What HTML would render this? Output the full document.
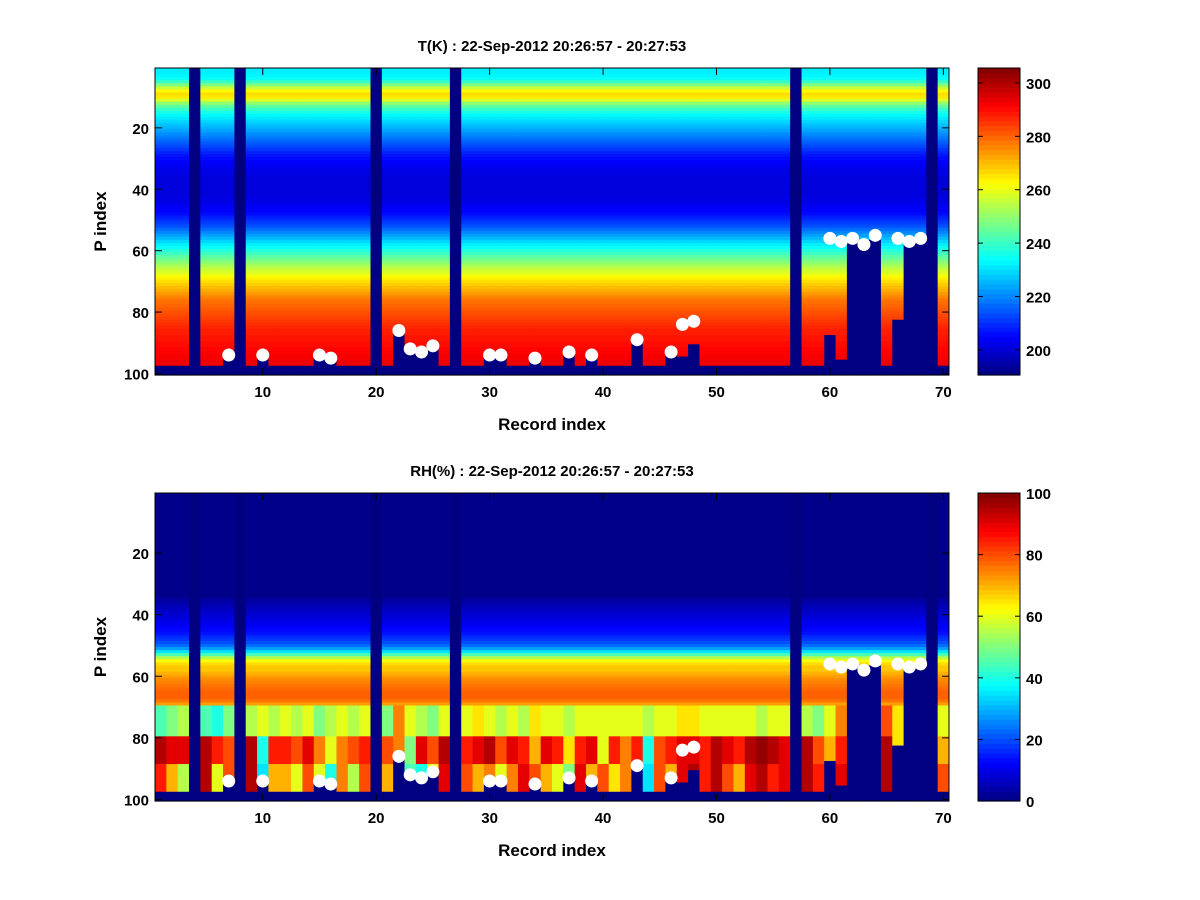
<!DOCTYPE html>
<html><head><meta charset="utf-8">
<style>
body{margin:0;background:#fff;}
svg{display:block;font-family:"Liberation Sans",sans-serif;}
</style></head>
<body>
<svg id="fig" width="1200" height="900" xmlns="http://www.w3.org/2000/svg">
<rect x="0" y="0" width="1200" height="900" fill="#fff"/>
</svg>
<script>
// ---- data ----
const nCols = 70;
const nLev = 100;
// first masked level per column (0 = whole column invalid, 98 = normal)
const maskStart = [98,98,98,0,98,98,94,0,98,94,98,98,98,98,94,95,98,98,98,0,98,86,92,93,91,98,0,98,98,94,94,98,98,95,98,98,93,98,94,98,98,98,89,98,98,93,95,91,98,98,98,98,98,98,98,98,0,98,98,88,96,57,57,57,98,83,57,57,0,98];
const dotCols = [7,10,15,16,22,23,24,25,30,31,34,37,39,43,46,47,48,60,61,62,63,64,66,67,68];
const dotLevs = [94,94,94,95,86,92,93,91,94,94,95,93,94,89,93,84,83,56,57,56,58,55,56,57,56];
const tProfile = [232,232,233,235,240,248,256,263,266,265,258,250,244,240,236,233,231,229,227,225,
223,221,219,217,215,213,211,209,207,206,205,204,203,202,202,201,201,201,201,201,
201,201,202,202,203,204,205,206,208,210,212,214,217,220,223,226,229,232,235,238,
241,244,247,250,253,256,258,261,264,266,268,270,272,274,276,278,279,280,281,282,
283,284,285,286,287,288,288,289,289,290,290,291,291,292,292,293,293];
const rhProfile = [1,1,1,1,1,1,1,1,1,1,1,1,1,1,1,1,1,1,1,1,1,1,1,1,1,1,1,1,1,1,1,1,1,1,
3,4,5,6,7,8,9,10,11,12,13,14,16,18,20,23,28,35,45,55,62,66,68,68,70,72,74,75,76,77,78,78,78,76,72];
const rhMid = [45,50,55,0,45,40,50,0,55,60,55,60,55,60,50,55,60,55,60,0,50,75,60,55,50,60,0,60,65,60,55,60,55,65,60,60,55,60,60,60,60,60,60,55,60,60,65,65,60,60,60,60,60,55,60,60,0,55,50,60,75,60,60,60,80,65,60,60,0,60];
const rhLow1 = [95,90,90,0,95,85,80,0,95,40,85,85,80,90,75,60,75,80,85,0,80,75,50,90,80,95,0,85,90,95,80,90,85,70,90,85,65,85,90,60,85,75,85,40,80,85,90,90,85,95,90,85,95,98,95,90,0,95,80,70,85,85,60,60,95,65,60,60,0,70];
const rhLow2 = [85,70,55,0,95,60,80,0,95,35,70,70,60,80,60,40,75,55,80,0,70,50,45,40,60,90,0,80,70,75,60,75,90,80,70,60,50,90,70,80,65,75,60,35,80,70,90,95,85,95,80,70,90,95,85,90,0,95,85,80,90,90,60,60,95,65,60,60,0,80];
const tTicksX = [10,20,30,40,50,60,70];
const tTicksY = [20,40,60,80,100];
const cbTicksT = [200,220,240,260,280,300];
const cbTicksRH = [0,20,40,60,80,100];

const NS = "http://www.w3.org/2000/svg";
const svg = document.getElementById('fig');
function mk(tag, attrs, parent){
  const e = document.createElementNS(NS, tag);
  for (const k in attrs) e.setAttribute(k, attrs[k]);
  (parent||svg).appendChild(e);
  return e;
}
function jet(v){
  v = Math.max(0, Math.min(1, v));
  const r = Math.max(0, Math.min(1, 1.5 - Math.abs(4*v - 3)));
  const g = Math.max(0, Math.min(1, 1.5 - Math.abs(4*v - 2)));
  const b = Math.max(0, Math.min(1, 1.5 - Math.abs(4*v - 1)));
  return `rgb(${Math.round(r*255)},${Math.round(g*255)},${Math.round(b*255)})`;
}
function tVal(c, p){ return tProfile[p-1]; }
function rhVal(c, p){
  if (p < 70) return rhProfile[p-1];
  if (p < 80) return rhMid[c-1];
  if (p < 89) return rhLow1[c-1];
  return rhLow2[c-1];
}

function drawPanel(cfg){
  const {x0,y0,w,h,title,titleName,valFn,cmin,cmax,cbTicks,prefix} = cfg;
  const cw = w / nCols, ch = h / nLev;
  const xs = c => x0 + (c - 0.5) * cw;   // center of column c
  const ys = p => y0 + (p - 0.5) * ch;   // center of level p
  const g = mk('g', {});
  
  
  for (let c = 1; c <= nCols; c++){
    const ms = maskStart[c-1];
    for (let p = 1; p <= nLev; p++){
      const masked = (ms === 0) || p >= ms || p > 97;
      const v = masked ? cmin : valFn(c, p);
      const r = mk('rect', {x: (xs(c)-cw/2).toFixed(2), y: (ys(p)-ch/2).toFixed(2), width: (cw+0.6).toFixed(2), height: (ch+0.6).toFixed(2), fill: jet((v - cmin)/(cmax - cmin))}, g);
      
      
    }
  }
  mk('rect', {x: x0+w, y: y0-1, width: 8, height: h+2, fill: '#fff'});
  for (let i = 0; i < dotCols.length; i++){
    const d = mk('circle', {cx: xs(dotCols[i]), cy: ys(dotLevs[i]), r: 6.5, fill: '#fff'});
    
    
  }
  const box = mk('rect', {x: x0, y: y0, width: w, height: h, fill: 'none', stroke: '#000', 'stroke-width': 1});
  
  
  tTicksX.forEach(t => {
    const x = xs(t);
    mk('line', {x1: x, x2: x, y1: y0+h, y2: y0+h-7, stroke: '#000'});
    mk('line', {x1: x, x2: x, y1: y0, y2: y0+7, stroke: '#000'});
    const tx = mk('text', {x: x, y: y0+h+22, 'text-anchor': 'middle', 'font-size': 15, 'font-weight': 'bold'});
    tx.textContent = t;
    
    
  });
  tTicksY.forEach(t => {
    const y = ys(t);
    mk('line', {x1: x0, x2: x0+7, y1: y, y2: y, stroke: '#000'});
    mk('line', {x1: x0+w, x2: x0+w-7, y1: y, y2: y, stroke: '#000'});
    const ty = mk('text', {x: x0-6, y: y+6, 'text-anchor': 'end', 'font-size': 15, 'font-weight': 'bold'});
    ty.textContent = t;
    
    
  });
  const tt = mk('text', {x: x0 + w/2, y: y0 - 17, 'text-anchor': 'middle', 'font-size': 15, 'font-weight': 'bold'});
  tt.textContent = title;
  
  
  const xl = mk('text', {x: x0 + w/2, y: y0+h+55, 'text-anchor': 'middle', 'font-size': 17, 'font-weight': 'bold'});
  xl.textContent = 'Record index';
  
  
  const yl = mk('text', {x: 0, y: 0, 'text-anchor': 'middle', 'font-size': 17, 'font-weight': 'bold', transform: `translate(106,${y0+h/2}) rotate(-90)`});
  yl.textContent = 'P index';
  
  
  const cbx = 978, cbw = 42;
  const cb = mk('g', {});
  
  
  const nSeg = 64;
  for (let i = 0; i < nSeg; i++){
    const s = mk('rect', {x: cbx, y: y0 + h - (i+1)*h/nSeg, width: cbw, height: h/nSeg + 0.6, fill: jet((i+0.5)/nSeg)}, cb);
    
    
  }
  mk('rect', {x: cbx, y: y0, width: cbw, height: h, fill: 'none', stroke: '#000'}, cb);
  cbTicks.forEach(t => {
    const y = y0 + h - (t - cmin)/(cmax - cmin) * h;
    mk('line', {x1: cbx, x2: cbx+5, y1: y, y2: y, stroke: '#000'}, cb);
    mk('line', {x1: cbx+cbw, x2: cbx+cbw-5, y1: y, y2: y, stroke: '#000'}, cb);
    const l = mk('text', {x: cbx+cbw+6, y: y+6, 'font-size': 15, 'font-weight': 'bold'}, cb);
    l.textContent = t;
    
    
  });
}

drawPanel({x0:155, y0:68, w:794, h:307, title:'T(K) : 22-Sep-2012 20:26:57 - 20:27:53', titleName:'temperature-title', valFn:tVal, cmin:190.6, cmax:305.6, cbTicks:cbTicksT, prefix:'temperature'});
drawPanel({x0:155, y0:493, w:794, h:308, title:'RH(%) : 22-Sep-2012 20:26:57 - 20:27:53', titleName:'humidity-title', valFn:rhVal, cmin:0, cmax:100, cbTicks:cbTicksRH, prefix:'humidity'});
</script>
</body></html>
